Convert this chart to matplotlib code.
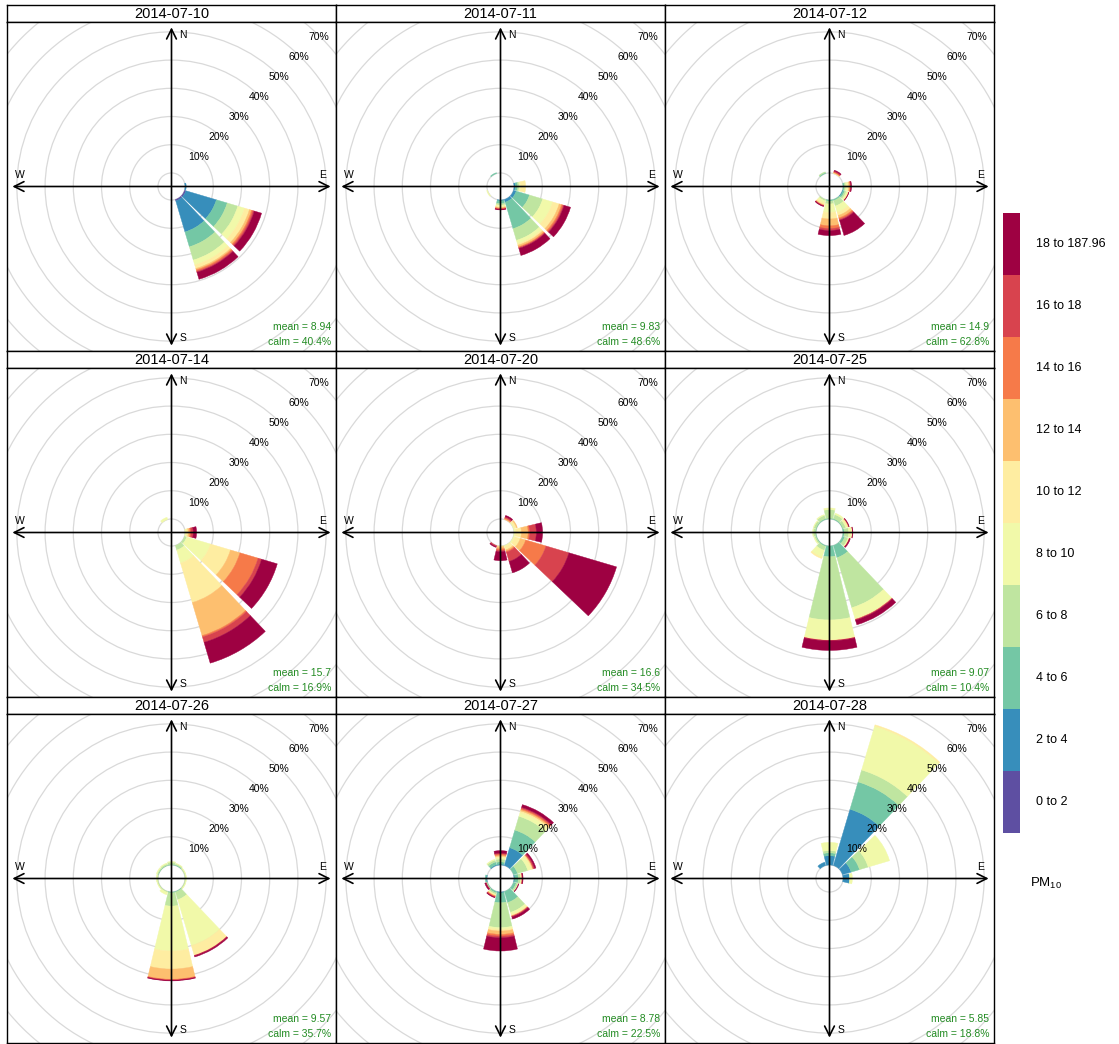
import numpy as np
import matplotlib
matplotlib.use("Agg")
import matplotlib.pyplot as plt
from matplotlib.patches import Wedge, Circle

plt.rcParams['font.family'] = ['Liberation Sans', 'DejaVu Sans']
plt.rcParams['mathtext.fontset'] = 'custom'
plt.rcParams['mathtext.rm'] = 'Liberation Sans'

# --- data --------------------------------------------------------------
dates = ["2014-07-10", "2014-07-11", "2014-07-12",
         "2014-07-14", "2014-07-20", "2014-07-25",
         "2014-07-26", "2014-07-27", "2014-07-28"]
means = ["8.94", "9.83", "14.9", "15.7", "16.6", "9.07", "9.57", "8.78", "5.85"]
calms = ["40.4", "48.6", "62.8", "16.9", "34.5", "10.4", "35.7", "22.5", "18.8"]
pm_labels = ["0 to 2", "2 to 4", "4 to 6", "6 to 8", "8 to 10", "10 to 12",
             "12 to 14", "14 to 16", "16 to 18", "18 to 187.96"]
grid_pct = [10, 20, 30, 40, 50, 60, 70, 80]

# % of hours per wind sector (bearing) and PM10 class
rose_0710 = {
    90: [0, 0.4, 0, 0, 0, 0, 0, 0, 0, 0],
    120: [0.5, 11.3, 4.0, 3.9, 2.5, 1.8, 0.8, 0.5, 0.5, 2.7],
    150: [0.5, 11.5, 5.5, 4.9, 1.8, 1.3, 0.5, 0.5, 0.4, 2.6],
}
rose_0711 = {
    90: [0, 0.5, 0.8, 0.5, 0.5, 1.8, 0, 0, 0, 0],
    120: [0, 1.0, 4.9, 4.9, 3.7, 2.4, 0.9, 0.5, 0.4, 2.4],
    150: [0, 1.0, 9.8, 4.3, 1.2, 0.6, 0.6, 0.3, 0.3, 2.6],
    180: [0, 0.3, 1.0, 0.5, 0.5, 0.3, 0.3, 0.2, 0.2, 0.2],
    240: [0, 0, 0, 0, 0.3, 0, 0, 0, 0, 0],
    330: [0, 0, 0.3, 0, 0, 0, 0, 0, 0, 0],
}
rose_0712 = {
    30: [0, 0, 0, 0, 0, 0.2, 0.2, 0.2, 0.3, 0.3],
    90: [0, 0, 0.5, 0.5, 0.6, 0.4, 0.4, 0.2, 0.2, 0.2],
    120: [0, 0.2, 0.6, 0.6, 0.5, 0.3, 0.1, 0, 0, 0.1],
    150: [0, 0, 0.4, 2.0, 2.3, 1.2, 0.9, 0.5, 0.4, 5.6],
    180: [0, 0, 0.4, 1.0, 3.0, 2.3, 2.4, 1.0, 0.7, 1.8],
    210: [0, 0, 0, 0.5, 0.8, 0.6, 0.3, 0, 0.2, 0.2],
    330: [0, 0, 0.3, 0.3, 0, 0, 0, 0, 0, 0],
}
rose_0714 = {
    90: [0, 0, 0, 0, 0.5, 0.6, 0.6, 0.4, 0.8, 1.2],
    120: [0, 0, 0, 0.8, 8.8, 7.4, 3.5, 6.7, 1.3, 5.8],
    150: [0, 0, 0, 1.7, 4.8, 14.6, 12.2, 0.5, 2.0, 7.7],
    330: [0, 0, 0, 0, 0.8, 0, 0, 0, 0, 0],
}
rose_0720 = {
    30: [0, 0, 0, 0, 0, 0, 0.3, 0.3, 0.4, 0.5],
    60: [0, 0, 0, 0, 0.3, 0.8, 0.3, 0, 0, 0],
    90: [0, 0, 0, 0, 0.5, 2.1, 2.4, 0.5, 2.4, 2.2],
    120: [0, 0, 0, 0, 0.5, 2.0, 2.0, 7.5, 8.5, 17.6],
    150: [0, 0, 0, 0, 0.4, 1.2, 0.5, 0.4, 3.4, 4.2],
    180: [0, 0, 0, 0, 0, 0.3, 0.7, 0.5, 0.5, 3.2],
    210: [0, 0, 0, 0, 0, 0, 0, 0, 0.4, 0.3],
}
rose_0725 = {
    0: [0, 0, 0.3, 3.0, 0.6, 0, 0, 0, 0, 0],
    30: [0, 0, 0.3, 1.5, 0.5, 0, 0, 0, 0, 0],
    60: [0, 0, 0.2, 1.0, 0.6, 0.3, 0.2, 0, 0, 0.2],
    90: [0, 0, 0.5, 1.5, 1.0, 0.3, 0, 0, 0, 0.2],
    120: [0, 0, 0.8, 1.2, 0.3, 0.2, 0, 0, 0.1, 0.3],
    150: [0, 0, 4.5, 18.5, 4.1, 0.2, 0, 0, 0.3, 1.7],
    180: [0, 0, 3.8, 22.4, 7.0, 0.2, 0, 0, 0.2, 3.4],
    210: [0, 0, 0.3, 1.5, 2.5, 0.5, 0, 0, 0, 0],
    240: [0, 0, 0.2, 0.5, 0.3, 0, 0, 0, 0, 0],
    270: [0, 0, 0.2, 0.8, 0.2, 0, 0, 0, 0, 0],
    300: [0, 0, 0.2, 0.8, 0.2, 0, 0, 0, 0, 0],
    330: [0, 0, 0.3, 1.2, 0.3, 0, 0, 0, 0, 0],
}
rose_0726 = {
    0: [0, 0, 0.2, 0.8, 0.2, 0, 0, 0, 0, 0],
    30: [0, 0, 0.2, 0.4, 0.2, 0, 0, 0, 0, 0],
    60: [0, 0, 0, 0.3, 0.2, 0, 0, 0, 0, 0],
    90: [0, 0, 0, 0.3, 0.2, 0, 0, 0, 0, 0],
    120: [0, 0, 0, 0.3, 0.2, 0, 0, 0, 0, 0],
    150: [0, 0, 0.2, 2.8, 17.0, 3.6, 0, 0, 0.2, 0.4],
    180: [0, 0, 0.3, 4.7, 15.9, 6.4, 3.6, 0.2, 0.2, 0.2],
    210: [0, 0, 0, 0.3, 0.9, 0, 0, 0, 0, 0],
    240: [0, 0, 0, 0.3, 0.2, 0, 0, 0, 0, 0],
    270: [0, 0, 0, 0.3, 0.3, 0, 0, 0, 0, 0],
    300: [0, 0, 0.1, 0.4, 0.3, 0, 0, 0, 0, 0],
    330: [0, 0, 0.1, 0.5, 0.3, 0, 0, 0, 0, 0],
}
rose_0727 = {
    0: [0, 0.3, 0.8, 1.0, 0.6, 0.4, 0.4, 0.4, 0.3, 0.9],
    30: [0, 6.6, 6.5, 5.1, 1.4, 0.6, 0.5, 0.4, 0.4, 1.0],
    60: [0, 0, 1.5, 3.8, 1.2, 0.5, 0.3, 0, 0.5, 0.5],
    90: [0, 0.3, 1.2, 0.8, 0.3, 0.2, 0, 0, 0.2, 0.2],
    120: [0, 0, 1.0, 0.6, 0.2, 0, 0, 0, 0, 0.2],
    150: [0, 0, 4.1, 3.6, 0.9, 0.3, 0.2, 0, 0.3, 0.8],
    180: [0, 0.3, 3.5, 8.8, 0.6, 0.6, 1.2, 0.6, 0.6, 4.7],
    210: [0, 0, 0.5, 0.5, 0.3, 0.2, 0.2, 0.2, 0.2, 0.2],
    240: [0, 0, 0.2, 0.2, 0, 0, 0, 0, 0.2, 0.4],
    270: [0, 0.3, 0.3, 0, 0, 0, 0, 0, 0, 0],
    330: [0, 0.3, 1.0, 0.7, 0.3, 0, 0, 0, 0, 0],
}
rose_0728 = {
    0: [0, 3.3, 1.0, 0.8, 2.9, 0, 0, 0, 0, 0],
    30: [0, 20.8, 10.1, 4.4, 16.2, 0.5, 0, 0, 0, 0],
    60: [0, 3.2, 3.1, 3.2, 7.9, 0, 0, 0, 0, 0],
    90: [0, 2.3, 0, 0, 1.0, 0, 0, 0, 0, 0],
    330: [0, 1.2, 0, 0, 0, 0, 0, 0, 0, 0],
}
roses = [rose_0710, rose_0711, rose_0712, rose_0714, rose_0720, rose_0725,
         rose_0726, rose_0727, rose_0728]

# --- layout --------------------------------------------------------------
W, H = 1119, 1044
fig = plt.figure(figsize=(W / 100, H / 100), dpi=100)
colors = plt.cm.Spectral_r(np.linspace(0, 1, 10))

hole = 4.8        # size of the centre hole (in % units)
lim = 58.3        # half width of each panel
mymax = 56.4      # length of the compass arrows
half = 13.5       # half width of a 30 degree sector (seg = 0.9)


def px_axes(x0, top, w, h):
    return fig.add_axes([x0 / W, 1 - (top + h) / H, w / W, h / H])


col_x = [7, 336, 665]
strip_top = [5, 351, 697]
pw, ph, sh = 329, 329, 17

for k, (date, rose) in enumerate(zip(dates, roses)):
    r, c = divmod(k, 3)

    st = px_axes(col_x[c], strip_top[r], pw, sh)
    st.set_xticks([])
    st.set_yticks([])
    for s in st.spines.values():
        s.set_linewidth(1.0)
    st.text(0.5, 0.45, date, ha='center', va='center', fontsize=10.5,
            transform=st.transAxes)

    ax = px_axes(col_x[c], strip_top[r] + sh, pw, ph)
    ax.set_xlim(-lim, lim)
    ax.set_ylim(-lim, lim)
    ax.set_xticks([])
    ax.set_yticks([])
    for s in ax.spines.values():
        s.set_linewidth(1.0)

    ax.add_patch(Circle((0, 0), hole, fill=False, ec='#d9d9d9', lw=0.9))
    for p in grid_pct:
        ax.add_patch(Circle((0, 0), hole + p, fill=False, ec='#d9d9d9', lw=0.9))

    for bearing, vals in rose.items():
        cum = np.cumsum(vals)
        for i, v in enumerate(vals):
            if v <= 0:
                continue
            ax.add_patch(Wedge((0, 0), hole + cum[i], 90 - bearing - half,
                               90 - bearing + half, width=v,
                               fc=colors[i], ec=colors[i], lw=0.3))

    for p in grid_pct:
        rr = (hole + p) * np.sqrt(0.5)
        ax.text(rr - 0.8, rr, f"{p}%", ha='center', va='center', fontsize=7.5,
                clip_on=True)

    arrow = dict(arrowstyle='<->,head_length=0.7,head_width=0.35', lw=1.2,
                 color='black', shrinkA=0, shrinkB=0)
    ax.annotate('', xy=(mymax, 0), xytext=(-mymax, 0), arrowprops=arrow)
    ax.annotate('', xy=(0, mymax), xytext=(0, -mymax), arrowprops=arrow)
    ax.text(0.07 * mymax, 0.95 * mymax, "N", ha='center', va='center', fontsize=7.5)
    ax.text(0.07 * mymax, -0.95 * mymax, "S", ha='center', va='center', fontsize=7.5)
    ax.text(0.95 * mymax, 0.07 * mymax, "E", ha='center', va='center', fontsize=7.5)
    ax.text(-0.95 * mymax, 0.07 * mymax, "W", ha='center', va='center', fontsize=7.5)

    ax.text(56.6, -49.8, f"mean = {means[k]}", ha='right', va='center',
            fontsize=7.5, color='forestgreen')
    ax.text(56.6, -55.1, f"calm = {calms[k]}%", ha='right', va='center',
            fontsize=7.5, color='forestgreen')

# colour key
cax = px_axes(1003, 213, 17, 620)
cax.bar(np.zeros(10), np.ones(10), bottom=np.arange(10), width=1,
        color=colors, edgecolor='none')
cax.set_xlim(-0.5, 0.5)
cax.set_ylim(0, 10)
cax.axis('off')
for i, lab in enumerate(pm_labels):
    cax.text(1.45, i + 0.5, lab, ha='left', va='center', fontsize=9,
             transform=cax.transData, clip_on=False)
fig.text(1030 / W, 1 - 883 / H, r"PM$_{\mathrm{10}}$", ha='left', va='center',
         fontsize=9.5)

fig.savefig("out.png", dpi=100)
